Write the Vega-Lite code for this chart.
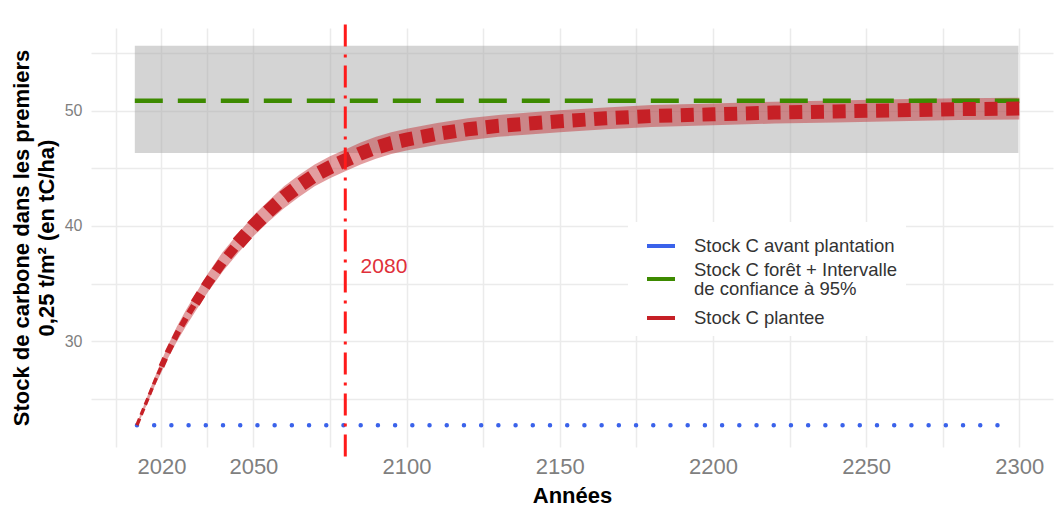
{
  "$schema": "https://vega.github.io/schema/vega-lite/v6.json",
  "width": 962,
  "height": 419,
  "autosize": {"type": "none"},
  "padding": {"left": 91, "top": 28, "right": 5, "bottom": 60},
  "background": "white",
  "config": {
    "font": "Liberation Sans",
    "view": {"stroke": null},
    "axis": {
      "grid": true,
      "gridColor": "#ebebeb",
      "gridWidth": 1.5,
      "domain": false,
      "ticks": false,
      "tickSize": 0,
      "labelColor": "#7f7f7f",
      "titleColor": "#000000",
      "titleFontWeight": "bold"
    }
  },
  "datasets": {
    "curve": [
      {"year": 2012, "value": 22.7, "lo": 22.55, "hi": 22.85},
      {"year": 2014, "value": 24.0, "lo": 23.75, "hi": 24.25},
      {"year": 2016, "value": 25.3, "lo": 24.95, "hi": 25.65},
      {"year": 2018, "value": 26.6, "lo": 26.2, "hi": 27.0},
      {"year": 2020, "value": 27.8, "lo": 27.3, "hi": 28.3},
      {"year": 2022, "value": 29.0, "lo": 28.45, "hi": 29.55},
      {"year": 2025, "value": 30.6, "lo": 29.95, "hi": 31.25},
      {"year": 2028, "value": 32.0, "lo": 31.3, "hi": 32.7},
      {"year": 2031, "value": 33.3, "lo": 32.55, "hi": 34.05},
      {"year": 2035, "value": 35.0, "lo": 34.2, "hi": 35.8},
      {"year": 2040, "value": 36.9, "lo": 36.05, "hi": 37.75},
      {"year": 2045, "value": 38.5, "lo": 37.65, "hi": 39.35},
      {"year": 2050, "value": 40.0, "lo": 39.1, "hi": 40.9},
      {"year": 2055, "value": 41.3, "lo": 40.4, "hi": 42.2},
      {"year": 2060, "value": 42.5, "lo": 41.55, "hi": 43.45},
      {"year": 2065, "value": 43.5, "lo": 42.55, "hi": 44.45},
      {"year": 2070, "value": 44.4, "lo": 43.45, "hi": 45.35},
      {"year": 2075, "value": 45.1, "lo": 44.15, "hi": 46.05},
      {"year": 2080, "value": 45.7, "lo": 44.75, "hi": 46.65},
      {"year": 2085, "value": 46.3, "lo": 45.35, "hi": 47.25},
      {"year": 2090, "value": 46.8, "lo": 45.85, "hi": 47.75},
      {"year": 2095, "value": 47.2, "lo": 46.25, "hi": 48.15},
      {"year": 2100, "value": 47.5, "lo": 46.55, "hi": 48.45},
      {"year": 2110, "value": 48.0, "lo": 47.05, "hi": 48.95},
      {"year": 2120, "value": 48.4, "lo": 47.45, "hi": 49.35},
      {"year": 2130, "value": 48.7, "lo": 47.75, "hi": 49.65},
      {"year": 2140, "value": 48.9, "lo": 47.95, "hi": 49.85},
      {"year": 2150, "value": 49.1, "lo": 48.15, "hi": 50.05},
      {"year": 2165, "value": 49.35, "lo": 48.4, "hi": 50.3},
      {"year": 2180, "value": 49.55, "lo": 48.6, "hi": 50.5},
      {"year": 2200, "value": 49.7, "lo": 48.75, "hi": 50.65},
      {"year": 2220, "value": 49.85, "lo": 48.9, "hi": 50.8},
      {"year": 2240, "value": 49.95, "lo": 49.0, "hi": 50.9},
      {"year": 2260, "value": 50.05, "lo": 49.1, "hi": 51.0},
      {"year": 2280, "value": 50.15, "lo": 49.2, "hi": 51.1},
      {"year": 2300, "value": 50.2, "lo": 49.25, "hi": 51.15}
    ]
  },
  "layer": [
    {
      "data": {"values": [{"year": 2011.3, "year2": 2299.7, "value": 46.35, "value2": 55.65}]},
      "mark": {"type": "rect", "color": "#a0a0a0", "opacity": 0.45},
      "encoding": {
        "x": {
          "field": "year", "type": "quantitative",
          "scale": {"domain": [1997, 2311], "nice": false, "zero": false},
          "axis": {
            "title": "Années",
            "titleFontSize": 22,
            "titlePadding": 8,
            "labelFontSize": 22,
            "labelPadding": 9,
            "format": "d",
            "values": [2005, 2020, 2035, 2050, 2075, 2100, 2125, 2150, 2175, 2200, 2225, 2250, 2275, 2300],
            "labelExpr": "(datum.value == 2020 || datum.value % 50 == 0) ? datum.label : ''"
          }
        },
        "x2": {"field": "year2"},
        "y": {
          "field": "value", "type": "quantitative",
          "scale": {"domain": [20.8, 57.2], "nice": false, "zero": false},
          "axis": {
            "title": ["Stock de carbone dans les premiers", "\u00a0\u00a0\u00a0\u00a0\u00a0\u00a0\u00a0\u00a0\u00a0\u00a0\u00a0\u00a0\u00a00,25 t/m² (en tC/ha)"],
            "titleFontSize": 22,
            "titleLineHeight": 25,
            "titlePadding": 6,
            "labelFontSize": 16,
            "labelPadding": 9,
            "values": [25, 30, 35, 40, 45, 50, 55],
            "labelExpr": "datum.value % 10 == 0 ? datum.label : ''"
          }
        },
        "y2": {"field": "value2"}
      }
    },
    {
      "data": {"values": [{"year": 2012, "value": 22.7}, {"year": 2298, "value": 22.7}]},
      "mark": {"type": "line", "strokeWidth": 4.5, "strokeDash": [0.01, 17.2], "strokeCap": "round"},
      "encoding": {
        "x": {"field": "year", "type": "quantitative"},
        "y": {"field": "value", "type": "quantitative"},
        "color": {
          "datum": "Stock C avant plantation",
          "type": "nominal",
          "scale": {
            "domain": ["Stock C avant plantation", "Stock C forêt + Intervalle de confiance à 95%", "Stock C plantee"],
            "range": ["#3a62ea", "#3d8a00", "#c62026"]
          },
          "legend": {
            "title": null,
            "orient": "none",
            "legendX": 537,
            "legendY": 194,
            "padding": 8,
            "fillColor": "white",
            "symbolType": "stroke",
            "symbolSize": 784,
            "symbolStrokeWidth": 4,
            "symbolDash": [1, 0],
            "symbolOffset": 9,
            "labelOffset": 17,
            "labelFontSize": 18.5,
            "labelColor": "#333333",
            "labelLimit": 400,
            "rowPadding": 4,
            "labelExpr": "datum.label == 'Stock C forêt + Intervalle de confiance à 95%' ? ['Stock C forêt + Intervalle', 'de confiance à 95%'] : datum.label",
            "encode": {
              "labels": {
                "update": {
                  "lineHeight": {"value": 19},
                  "dy": [
                    {"test": "datum.value == 'Stock C forêt + Intervalle de confiance à 95%'", "value": -9.5},
                    {"value": 0}
                  ]
                }
              }
            }
          }
        }
      }
    },
    {
      "data": {"name": "curve"},
      "mark": {"type": "area", "color": "#c0282d", "opacity": 0.45},
      "encoding": {
        "x": {"field": "year", "type": "quantitative"},
        "y": {"field": "lo", "type": "quantitative"},
        "y2": {"field": "hi"}
      }
    },
    {
      "data": {"values": [{"year": 2011.3, "value": 50.87}, {"year": 2300, "value": 50.87}]},
      "mark": {"type": "line", "strokeWidth": 4.5, "strokeDash": [28, 15]},
      "encoding": {
        "x": {"field": "year", "type": "quantitative"},
        "y": {"field": "value", "type": "quantitative"},
        "color": {"datum": "Stock C forêt + Intervalle de confiance à 95%", "type": "nominal"}
      }
    },
    {
      "data": {"name": "curve"},
      "transform": [{"filter": "datum.year <= 2020"}],
      "mark": {"type": "line", "strokeWidth": 3.5, "strokeDash": [7, 4]},
      "encoding": {
        "x": {"field": "year", "type": "quantitative"},
        "y": {"field": "value", "type": "quantitative"},
        "color": {"datum": "Stock C plantee", "type": "nominal"}
      }
    },
    {
      "data": {"name": "curve"},
      "transform": [{"filter": "datum.year >= 2020 && datum.year <= 2031"}],
      "mark": {"type": "line", "strokeWidth": 6, "strokeDash": [9, 6]},
      "encoding": {
        "x": {"field": "year", "type": "quantitative"},
        "y": {"field": "value", "type": "quantitative"},
        "color": {"datum": "Stock C plantee", "type": "nominal"}
      }
    },
    {
      "data": {"name": "curve"},
      "transform": [{"filter": "datum.year >= 2031 && datum.year <= 2045"}],
      "mark": {"type": "line", "strokeWidth": 10, "strokeDash": [11, 8]},
      "encoding": {
        "x": {"field": "year", "type": "quantitative"},
        "y": {"field": "value", "type": "quantitative"},
        "color": {"datum": "Stock C plantee", "type": "nominal"}
      }
    },
    {
      "data": {"name": "curve"},
      "transform": [{"filter": "datum.year >= 2045"}],
      "mark": {"type": "line", "strokeWidth": 14, "strokeDash": [13, 8.7]},
      "encoding": {
        "x": {"field": "year", "type": "quantitative"},
        "y": {"field": "value", "type": "quantitative"},
        "color": {"datum": "Stock C plantee", "type": "nominal"}
      }
    },
    {
      "data": {"values": [{"year": 2080}]},
      "mark": {"type": "rule", "color": "#ff1a1a", "strokeWidth": 3, "strokeDash": [22, 8, 3, 8], "clip": false},
      "encoding": {
        "x": {"field": "year", "type": "quantitative"},
        "y": {"datum": 57.5, "type": "quantitative"},
        "y2": {"datum": 19.65}
      }
    },
    {
      "data": {"values": [{"year": 2085, "value": 36.4, "label": "2080"}]},
      "mark": {"type": "text", "color": "#e0303a", "fontSize": 21, "align": "left", "baseline": "middle"},
      "encoding": {
        "x": {"field": "year", "type": "quantitative"},
        "y": {"field": "value", "type": "quantitative"},
        "text": {"field": "label"}
      }
    }
  ]
}
